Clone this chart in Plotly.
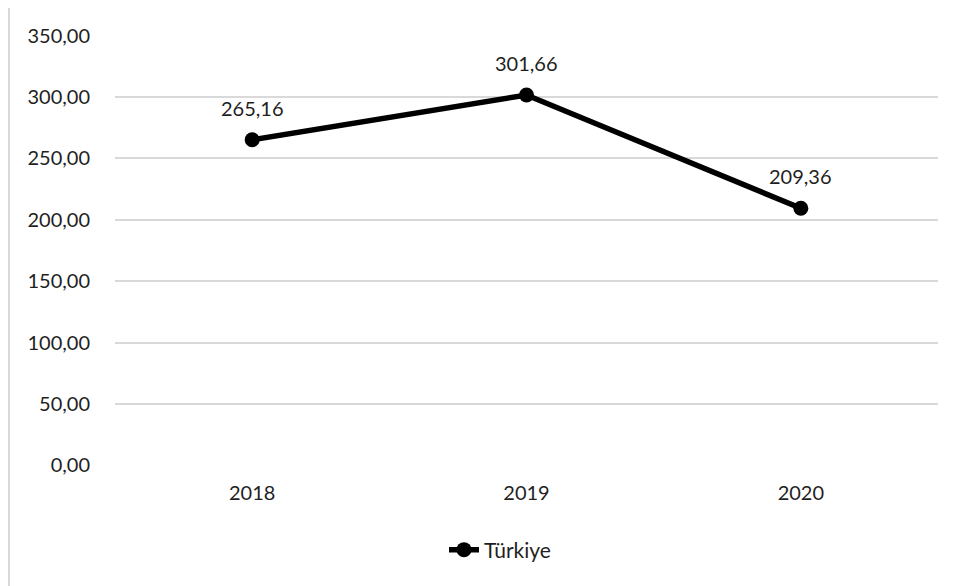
import plotly.graph_objects as go

years = ["2018", "2019", "2020"]
values = [265.16, 301.66, 209.36]
labels = ["265,16", "301,66", "209,36"]
series_name = "Türkiye"
y_ticks = [0, 50, 100, 150, 200, 250, 300, 350]
y_tick_text = ["0,00", "50,00", "100,00", "150,00", "200,00", "250,00", "300,00", "350,00"]

# page body has an 8px margin, so the figure is laid out 8px smaller
OFF = 8
W, H = 956 - OFF, 586 - OFF
L, R, T, B = 115 - OFF, 18, 35 - OFF, 120
pw, ph = W - L - R, H - T - B
FONT = "Lato"
FS = 20
TXT = "#1f1f1f"

xpos = list(range(len(years)))

fig = go.Figure()
fig.add_trace(go.Scatter(
    x=xpos, y=values, name=series_name, mode="lines+markers",
    line=dict(color="black", width=5.5),
    marker=dict(color="black", size=15),
))
for x, v, t in zip(xpos, values, labels):
    fig.add_annotation(x=x, y=v, xref="x", yref="y", text=t, showarrow=False, yshift=32,
                       font=dict(family=FONT, size=FS, color=TXT))

fig.add_shape(type="line", xref="paper", yref="paper",
              x0=(1 - L) / pw, x1=(1 - L) / pw,
              y0=(T + ph + 3) / ph, y1=(T + ph - H) / ph,
              line=dict(color="#d9d9d9", width=2))

fig.update_layout(
    width=W, height=H,
    margin=dict(l=L, r=R, t=T, b=B, autoexpand=False),
    plot_bgcolor="white", paper_bgcolor="white",
    font=dict(family=FONT, size=FS, color=TXT),
    showlegend=True,
    legend=dict(orientation="h", x=(500 - OFF - L) / pw, xanchor="center",
                y=(T + ph - (550 - OFF)) / ph, yanchor="middle",
                font=dict(size=21)),
    xaxis=dict(range=[-0.5, 2.5], tickvals=xpos, ticktext=years,
               showgrid=False, showline=False, zeroline=False,
               ticks="outside", ticklen=9, tickcolor="rgba(0,0,0,0)",
               automargin=False),
    yaxis=dict(range=[-0.5, 350.5], tickvals=y_ticks, ticktext=y_tick_text,
               showgrid=True, gridcolor="#d9d9d9", gridwidth=2,
               zeroline=False, showline=False, ticks="outside", ticklen=20,
               tickcolor="rgba(0,0,0,0)", automargin=False),
)
fig.write_html("out.html")
